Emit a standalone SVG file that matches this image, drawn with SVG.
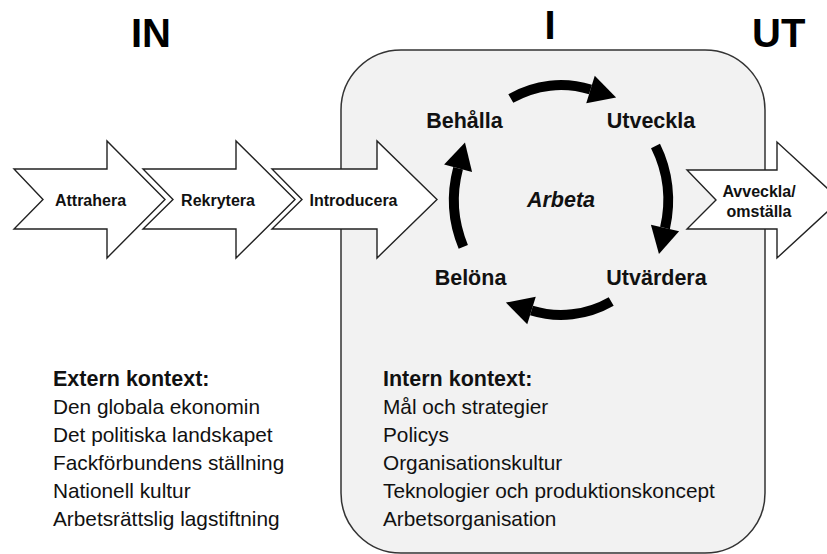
<svg xmlns="http://www.w3.org/2000/svg" width="827" height="554" viewBox="0 0 827 554">
<defs>
<style>
.title{font-family:"Liberation Sans",Arial,sans-serif;font-weight:bold;font-size:40px;fill:#000}
.blk{fill:#fff;stroke:#222;stroke-width:1.4;stroke-linejoin:miter}
.al{font-family:"Liberation Sans",Arial,sans-serif;font-weight:bold;font-size:16px;fill:#111;text-anchor:middle}
.ml{font-family:"Liberation Sans",Arial,sans-serif;font-weight:bold;font-size:21.5px;fill:#111;text-anchor:middle}
.arc{fill:none;stroke:#000;stroke-width:10}
.hd{font-family:"Liberation Sans",Arial,sans-serif;font-weight:bold;font-size:21.5px;fill:#111}
.tx{font-family:"Liberation Sans",Arial,sans-serif;font-size:20.8px;fill:#111}
</style>
<marker id="ah" markerUnits="userSpaceOnUse" markerWidth="30" markerHeight="30" viewBox="0 -14 26 28" refX="0" refY="0" orient="auto">
<path d="M0,-13.5 L25,0 L0,13.5 z" fill="#000"/>
</marker>
</defs>
<rect width="827" height="554" fill="#fff"/>
<g id="titles">
<text class="title" x="131" y="47">IN</text>
<text class="title" x="550" y="39" text-anchor="middle">I</text>
<text class="title" x="752" y="47">UT</text>
</g>
<g id="box">
<rect x="341" y="50" width="424" height="503" rx="60" ry="60" fill="#f2f2f2" stroke="#333" stroke-width="1.5"/>
</g>
<g id="attrahera">
<polygon class="blk" points="14,169 107,169 107,141 165,199.5 107,258 107,229 14,229 43,199.5"/>
<text class="al" x="90.5" y="206">Attrahera</text>
</g>
<g id="rekrytera">
<polygon class="blk" points="143,169 236,169 236,141 295,199.5 236,258 236,229 143,229 173,199.5"/>
<text class="al" x="218" y="206">Rekrytera</text>
</g>
<g id="introducera">
<polygon class="blk" points="272,169 377,169 377,141 437,199.5 377,258 377,229 272,229 302,199.5"/>
<text class="al" x="353.5" y="206">Introducera</text>
</g>
<g id="avveckla">
<polygon class="blk" points="687,170 777,170 777,142 840,200 777,258 777,229 687,229 716,200"/>
<text class="al" x="759" y="196.5">Avveckla/</text>
<text class="al" x="759" y="216.5">omställa</text>
</g>
<g id="connectors">
<path class="arc" marker-end="url(#ah)" d="M510.8,98.5 A107,115 0 0 1 590.5,89.5"/>
<path class="arc" marker-end="url(#ah)" d="M655.5,146 A107,115 0 0 1 665,228"/>
<path class="arc" marker-end="url(#ah)" d="M611.2,301.5 A107,115 0 0 1 531.5,310.5"/>
<path class="arc" marker-end="url(#ah)" d="M463.3,246.8 A107,115 0 0 1 458.1,168.3"/>
</g>
<g id="behalla"><text class="ml" x="464.5" y="128">Behålla</text></g>
<g id="utveckla"><text class="ml" x="651" y="128">Utveckla</text></g>
<g id="arbeta"><text class="ml" x="561" y="207" font-style="italic" font-size="22">Arbeta</text></g>
<g id="belona"><text class="ml" x="470.5" y="285">Belöna</text></g>
<g id="utvardera"><text class="ml" x="656.5" y="285">Utvärdera</text></g>
<g id="extern">
<text class="hd" x="53" y="386">Extern kontext:</text>
<text class="tx" x="53" y="414">Den globala ekonomin</text>
<text class="tx" x="53" y="442">Det politiska landskapet</text>
<text class="tx" x="53" y="470">Fackförbundens ställning</text>
<text class="tx" x="53" y="498">Nationell kultur</text>
<text class="tx" x="53" y="526">Arbetsrättslig lagstiftning</text>
</g>
<g id="intern">
<text class="hd" x="383" y="386">Intern kontext:</text>
<text class="tx" x="383" y="414">Mål och strategier</text>
<text class="tx" x="383" y="442">Policys</text>
<text class="tx" x="383" y="470">Organisationskultur</text>
<text class="tx" x="383" y="498">Teknologier och produktionskoncept</text>
<text class="tx" x="383" y="526">Arbetsorganisation</text>
</g>
</svg>
